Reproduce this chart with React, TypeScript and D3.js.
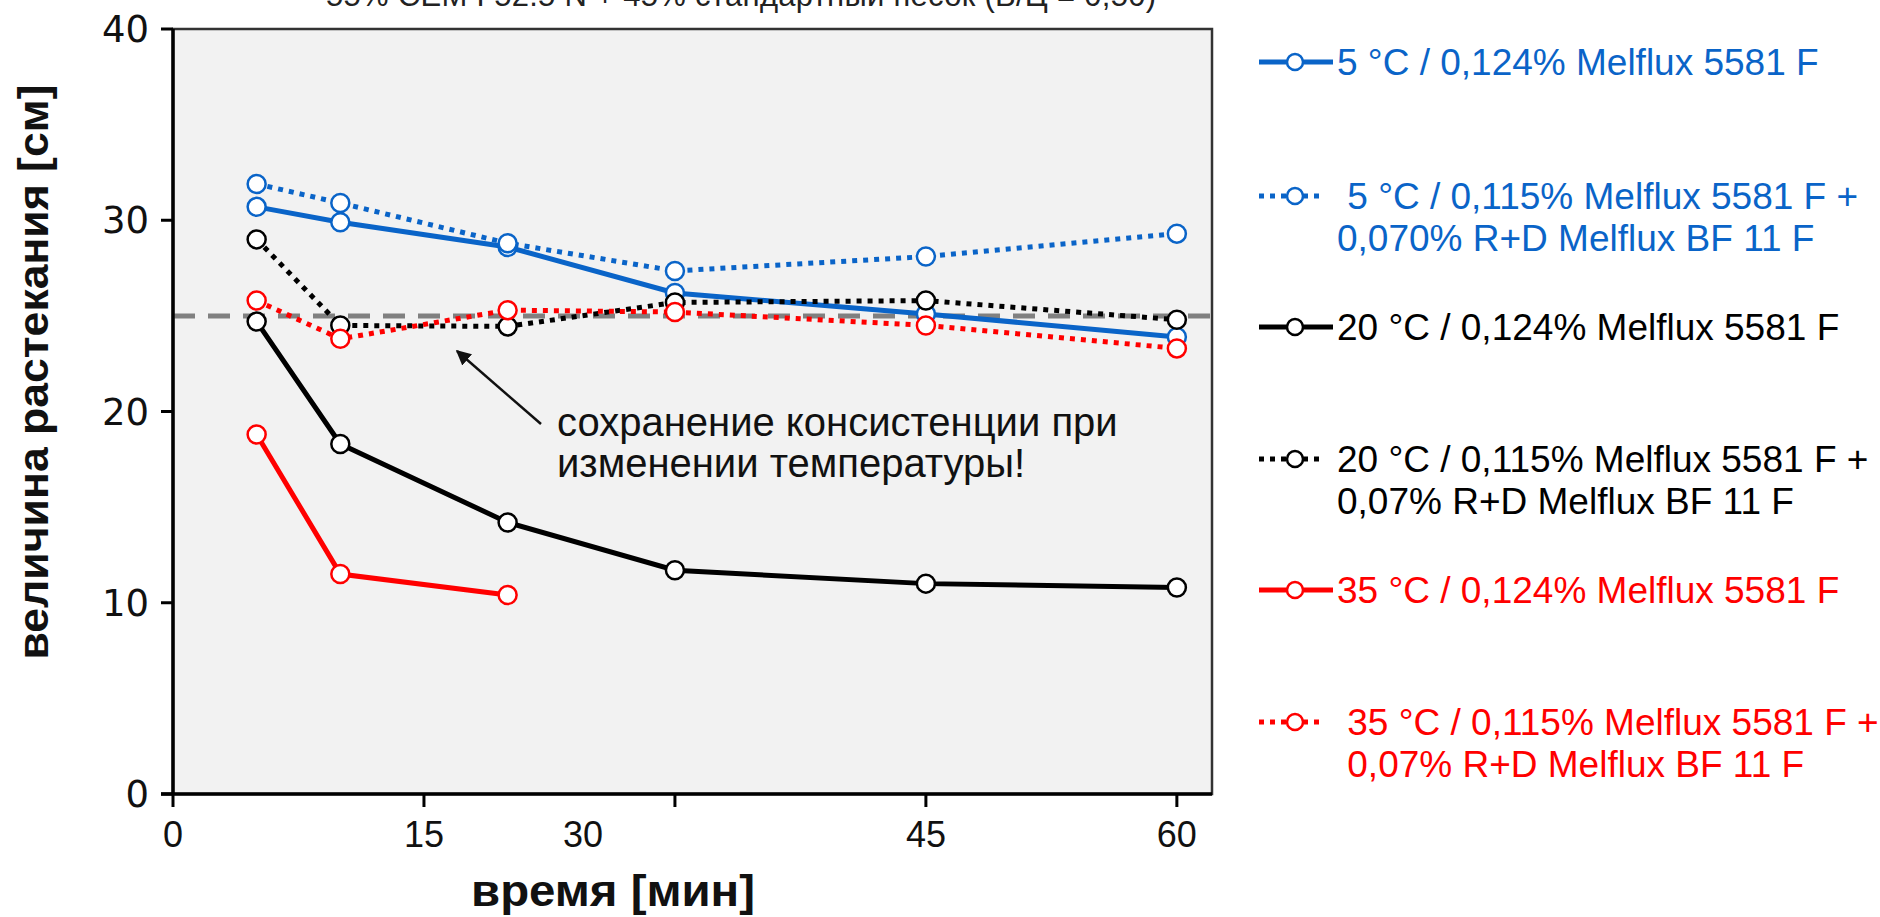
import React from 'react';
import * as d3 from 'd3';

// time points [min] and spread values [cm]
const times = [5, 10, 20, 30, 45, 60];
const times35 = [5, 10, 20];

const s5_124 = [30.7, 29.9, 28.6, 26.2, 25.1, 23.9];
const s5_115 = [31.9, 30.9, 28.8, 27.35, 28.1, 29.3];
const s20_124 = [24.7, 18.3, 14.2, 11.7, 11.0, 10.8];
const s20_115 = [29.0, 24.5, 24.45, 25.7, 25.8, 24.8];
const s35_124 = [18.8, 11.5, 10.4];
const s35_115 = [25.8, 23.8, 25.3, 25.2, 24.5, 23.3];

const xTicks = [0, 15, 30, 45, 60];
// tick labels, with the position where each label is printed
const xTickLabels = ['0', '15', '30', '45', '60'];
const xLabelPos = [0, 15, 24.5, 45, 60];
const yTicks = [0, 10, 20, 30, 40];
const target = 25;

const BLUE = '#0a64c8';
const RED = '#ff0000';
const BLACK = '#000000';
const FONT = '"Liberation Sans", Arial, sans-serif';

const series = [
  { name: ['5 °C / 0,124% Melflux 5581 F'], x: times, y: s5_124, color: BLUE, dotted: false },
  { name: [' 5 °C / 0,115% Melflux 5581 F +', '0,070% R+D Melflux BF 11 F'], x: times, y: s5_115, color: BLUE, dotted: true },
  { name: ['20 °C / 0,124% Melflux 5581 F'], x: times, y: s20_124, color: BLACK, dotted: false },
  { name: ['20 °C / 0,115% Melflux 5581 F +', '0,07% R+D Melflux BF 11 F'], x: times, y: s20_115, color: BLACK, dotted: true },
  { name: ['35 °C / 0,124% Melflux 5581 F'], x: times35, y: s35_124, color: RED, dotted: false },
  { name: [' 35 °C / 0,115% Melflux 5581 F +', ' 0,07% R+D Melflux BF 11 F'], x: times, y: s35_115, color: RED, dotted: true },
];

const legendY = [62, 196, 327, 459, 590, 722];

export default function App() {
  const x = d3.scaleLinear().domain([0, 62.1]).range([173, 1212]);
  const y = d3.scaleLinear().domain([0, 40]).range([794, 29]);
  const [x0, x1] = x.range();
  const [y0, y1] = y.range();

  const line = d3
    .line<[number, number]>()
    .x((d) => x(d[0]))
    .y((d) => y(d[1]));

  return (
    <svg
      width={1880}
      height={917}
      style={{ position: 'absolute', left: 0, top: 0, background: '#fff' }}
      fontFamily={FONT}
    >
      {/* cut-off title */}
      <text x={741} y={6} textAnchor="middle" fontSize={31} fill="#222" textLength={830}>
        55% CEM I 52.5 N + 45% стандартный песок (В/Ц = 0,50)
      </text>

      <rect x={x0} y={y1} width={x1 - x0} height={y0 - y1} fill="#f2f2f2" stroke="#333" strokeWidth={2.5} />

      {/* target line */}
      <line
        x1={x0}
        x2={x1}
        y1={y(target)}
        y2={y(target)}
        stroke="#808080"
        strokeWidth={5}
        strokeDasharray="22 13"
      />

      {/* annotation */}
      <g fill="#111" fontSize={40}>
        <text x={557} y={436}>сохранение консистенции при</text>
        <text x={557} y={477}>изменении температуры!</text>
      </g>
      <defs>
        <marker id="arr" viewBox="0 0 10 10" refX={9} refY={5} markerWidth={6} markerHeight={6} orient="auto">
          <path d="M0,0 L10,5 L0,10 z" fill="#111" />
        </marker>
      </defs>
      <line x1={541} y1={424} x2={457} y2={351} stroke="#111" strokeWidth={2.5} markerEnd="url(#arr)" />

      {/* series */}
      {series.map((s, i) => {
        const pts = s.x.map((t, j) => [t, s.y[j]] as [number, number]);
        return (
          <g key={i}>
            <path
              d={line(pts) || ''}
              fill="none"
              stroke={s.color}
              strokeWidth={5}
              strokeDasharray={s.dotted ? '5 6' : undefined}
            />
            {pts.map((p, j) => (
              <circle key={j} cx={x(p[0])} cy={y(p[1])} r={9} fill="#fff" stroke={s.color} strokeWidth={2.5} />
            ))}
          </g>
        );
      })}

      {/* axes */}
      <line x1={x0} x2={x0} y1={y1} y2={y0} stroke="#000" strokeWidth={3.5} />
      <line x1={x0 - 12} x2={x1} y1={y0} y2={y0} stroke="#000" strokeWidth={3.5} />
      {yTicks.map((t) => (
        <g key={t}>
          <line x1={x0 - 12} x2={x0} y1={y(t)} y2={y(t)} stroke="#000" strokeWidth={3} />
          <text
            x={149}
            y={y(t) + 13}
            textAnchor="end"
            fontSize={37}
            fontFamily='"DejaVu Sans", Verdana, sans-serif'
            fill="#111"
          >
            {t}
          </text>
        </g>
      ))}
      {xTicks.map((t) => (
        <line key={t} x1={x(t)} x2={x(t)} y1={y0} y2={y0 + 13} stroke="#000" strokeWidth={3} />
      ))}
      {xTickLabels.map((l, i) => (
        <text key={l} x={x(xLabelPos[i])} y={847} textAnchor="middle" fontSize={36} fill="#111">
          {l}
        </text>
      ))}

      {/* axis titles */}
      <text
        x={613}
        y={906}
        textAnchor="middle"
        fontSize={44}
        fontWeight="bold"
        fill="#111"
        textLength={284}
        lengthAdjust="spacingAndGlyphs"
      >
        время [мин]
      </text>
      <text
        transform="translate(48,372) rotate(-90)"
        textAnchor="middle"
        fontSize={42}
        fontWeight="bold"
        fill="#111"
        textLength={575}
        lengthAdjust="spacingAndGlyphs"
      >
        величина растекания [см]
      </text>

      {/* legend */}
      {series.map((s, i) => {
        const cy = legendY[i];
        return (
          <g key={i}>
            <line
              x1={1259}
              x2={s.dotted ? 1325 : 1333}
              y1={cy}
              y2={cy}
              stroke={s.color}
              strokeWidth={5}
              strokeDasharray={s.dotted ? '5 6' : undefined}
            />
            <circle cx={1295} cy={cy} r={8} fill="#fff" stroke={s.color} strokeWidth={2.5} />
            {s.name.map((n, k) => (
              <text
                key={k}
                x={1337}
                y={cy + 13 + k * 42}
                fontSize={37}
                fill={s.color}
                style={{ whiteSpace: 'pre' }}
              >
                {n}
              </text>
            ))}
          </g>
        );
      })}
    </svg>
  );
}
